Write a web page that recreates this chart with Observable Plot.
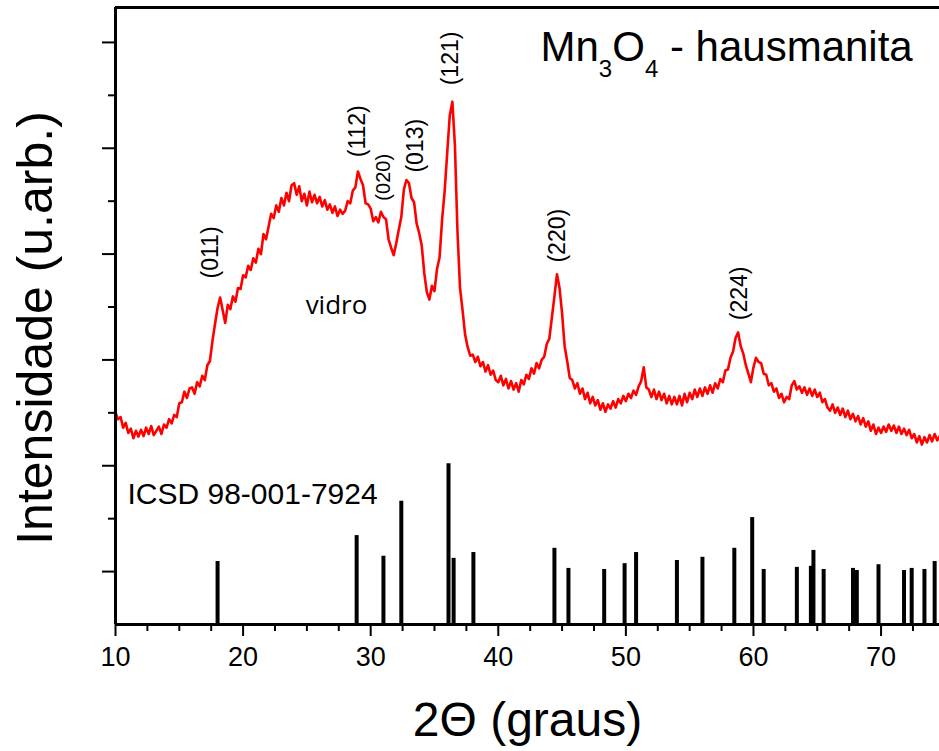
<!DOCTYPE html>
<html><head><meta charset="utf-8">
<script src="https://cdn.jsdelivr.net/npm/d3@7"></script>
<script src="https://cdn.jsdelivr.net/npm/@observablehq/plot@0.6"></script>
<style>body{margin:0;background:#fff}</style>
</head><body><div id="chart"></div>
<script>
// XRD pattern sampled every 0.2° from 10° to 74.6° (2θ), intensity in arbitrary units
const twoThetaStart = 10;
const twoThetaStep = 0.2;
const intensity = [
400,388,392,372,381,362,370,352,366,355,
368,356,372,360,375,358,366,374,360,378,
372,388,380,396,392,418,420,440,428,446,
448,436,458,450,470,462,490,498,536,568,
598,618,594,570,604,596,620,610,636,634,
660,656,678,670,692,684,710,700,738,728,
752,776,768,792,780,806,792,816,800,830,
834,812,828,800,814,792,818,798,812,796,
808,790,802,784,794,778,790,772,784,776,
782,800,796,820,826,856,842,830,796,794,
786,762,770,760,780,770,766,728,712,698,
720,746,770,822,840,834,806,798,758,740,
716,664,628,614,640,630,672,694,766,820,
892,962,988,906,744,636,594,548,524,508,
510,496,506,488,496,478,490,472,480,462,
458,470,452,464,446,460,444,456,440,462,
454,472,464,484,474,494,484,500,506,530,
540,580,620,662,636,588,526,498,466,462,
446,456,436,446,426,438,418,430,414,424,
406,418,402,416,408,422,410,426,418,432,
422,436,428,442,434,450,460,486,448,444,
430,444,426,440,424,436,418,432,416,430,
416,432,414,436,420,438,426,444,430,446,
432,448,436,452,438,456,446,464,458,480,
482,504,516,542,552,526,512,490,474,458,
486,504,496,494,474,472,452,456,440,446,
428,436,420,430,426,452,460,444,450,438,
448,434,446,432,444,430,438,420,426,410,
404,416,400,410,396,408,392,404,388,398,
384,394,378,390,374,384,366,378,360,372,
362,374,364,378,366,376,362,374,360,370,
358,368,352,360,344,356,340,354,344,358,
346,360,348,356
];

// ICSD 98-001-7924 reference pattern
const icsdTwoTheta = [18.0,28.9,31.0,32.4,36.1,36.5,38.05,44.4,45.5,48.3,49.9,50.8,54.0,56.0,58.5,59.9,60.8,63.4,64.5,64.7,65.5,67.8,68.1,69.8,71.8,72.4,73.4,74.2];
const icsdIntensity = [119,168,129,233,304,125,136,144,106,104,115,136,121,127,144,202,104,108,110,140,104,106,102,113,102,106,104,119];

// Miller index annotations
const peakLabels = ["(011)","(112)","(020)","(013)","(121)","(220)","(224)"];
const peakLabelTwoTheta = [17.45,28.97,31.0,33.51,36.25,44.64,58.9];
const peakLabelIntensity = [654,883,801,854,1019,684,575];

const xTicksMajor = [10,20,30,40,50,60,70];
const xTicksMinor = [12.5,15,17.5,22.5,25,27.5,32.5,35,37.5,42.5,45,47.5,52.5,55,57.5,62.5,65,67.5,72.5];
const yTicksMajor = [100,300,500,700,900,1100];
const yTicksMinor = [200,400,600,800,1000];

const titleText = "Mn3O4 - hausmanita";
const xLabel = "2Θ (graus)";
const yLabel = "Intensidade (u.arb.)";
const glassLabel = "vidro";
const icsdLabel = "ICSD 98-001-7924";

const xrd = intensity.map((v, i) => ({x: +(twoThetaStart + i * twoThetaStep).toFixed(2), y: v}));
const icsd = icsdTwoTheta.map((x, i) => ({x, y: icsdIntensity[i]}));
const peaks = peakLabels.map((t, i) => ({t, x: peakLabelTwoTheta[i], y: peakLabelIntensity[i]}));

const font = "Liberation Sans, Arial, sans-serif";
const svg = Plot.plot({
  width: 939, height: 751,
  marginLeft: 115, marginRight: 0, marginTop: 7, marginBottom: 127,
  x: {domain: [10, 74.58]},
  y: {domain: [0, 1166]},
  style: {fontFamily: font, color: "#000", background: "#fff", overflow: "visible"},
  marks: [
    Plot.ruleX(icsd, {x: "x", y1: 0, y2: "y", stroke: "#000", strokeWidth: 4}),
    Plot.line(xrd, {x: "x", y: "y", stroke: "#ff0000", strokeWidth: 2.6, strokeLinejoin: "round"}),
    Plot.axisX({ticks: xTicksMajor, tickSize: 12, tickPadding: 10, fontSize: 27, strokeWidth: 2, label: null, tickFormat: d => String(d), fill: "#000"}),
    Plot.axisX({ticks: xTicksMinor, tickSize: 7, strokeWidth: 2, label: null, tickFormat: () => ""}),
    Plot.axisY({ticks: yTicksMajor, tickSize: 13, strokeWidth: 2, label: null, tickFormat: () => ""}),
    Plot.axisY({ticks: yTicksMinor, tickSize: 7, strokeWidth: 2, label: null, tickFormat: () => ""}),
    Plot.ruleX([10], {stroke: "#000", strokeWidth: 3}),
    Plot.ruleY([0], {stroke: "#000", strokeWidth: 3}),
    Plot.ruleY([1166], {stroke: "#000", strokeWidth: 3}),
    Plot.text(peaks, {x: "x", y: "y", text: "t", rotate: -90, textAnchor: "start", lineAnchor: "middle",
      fontSize: d => d.t === "(020)" ? 20 : 23, fill: "#000"}),
    Plot.text([glassLabel], {x: [27.32], y: [603], text: d => d, fontSize: 26, fontFamily: "Open Sans", lineAnchor: "middle", fill: "#000"}),
    Plot.text([icsdLabel], {x: [10.94], y: [246], text: d => d, fontSize: 30, textAnchor: "start", lineAnchor: "middle", fill: "#000"}),
    Plot.text([titleText], {x: [43.31], y: [1090], text: d => d, fontSize: 42, textAnchor: "start", lineAnchor: "middle", fill: "#000"}),
    Plot.text([xLabel], {frameAnchor: "bottom", text: d => d, dy: 96, fontSize: 48, textAnchor: "middle", lineAnchor: "middle", fill: "#000"}),
    Plot.text([yLabel], {frameAnchor: "left", text: d => d, rotate: -90, dx: -80, dy: 12, fontSize: 50, textAnchor: "middle", lineAnchor: "middle", fill: "#000"})
  ]
});

// subscripts in the title
d3.select(svg).selectAll("text").filter(function() { return this.textContent === titleText; }).each(function() {
  const el = d3.select(this);
  el.text(null);
  el.append("tspan").text("Mn");
  el.append("tspan").attr("dy", 16).attr("font-size", 24).text("3");
  el.append("tspan").attr("dy", -16).text("O");
  el.append("tspan").attr("dy", 16).attr("font-size", 24).text("4");
  el.append("tspan").attr("dy", -16).text(" - hausmanita");
});

document.getElementById("chart").appendChild(svg);
</script>
</body></html>
